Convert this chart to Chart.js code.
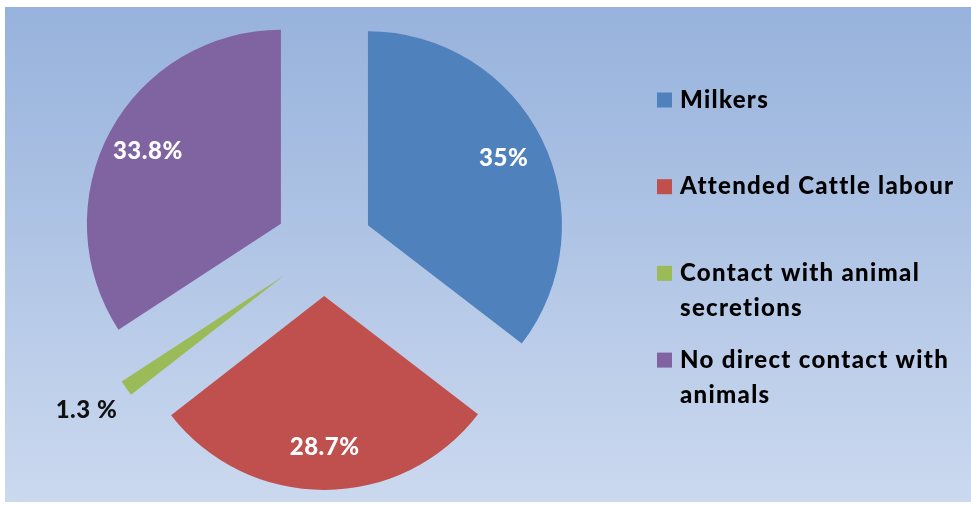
<!DOCTYPE html>
<html>
<head>
<meta charset="utf-8">
<script src="https://cdn.jsdelivr.net/npm/chart.js@4/dist/chart.umd.min.js"></script>
<style>
  html, body { margin: 0; padding: 0; background: #fff; }
  #wrap { width: 971px; height: 506px; }
</style>
</head>
<body>
<div id="wrap"><canvas id="chart" width="971" height="506"></canvas></div>
<script>
// exposure groups
const labels = [
  "Milkers",
  "Attended Cattle labour",
  ["Contact with animal", "secretions"],
  ["No direct contact with", "animals"],
];
const shares = [35, 28.7, 1.3, 33.8];
const shareText = ["35%", "28.7%", "1.3 %", "33.8%"];
const colors = ["#4f81bd", "#c0504d", "#9bbb59", "#8064a2"];

const FONT = "Lato, 'Open Sans', sans-serif";
const EXPLODE = 49;

// pull each slice out along its bisector without changing its shape
const explode = {
  id: "explode",
  afterDatasetUpdate(chart, args) {
    args.meta.data.forEach((arc) => {
      const mid = (arc.startAngle + arc.endAngle) / 2;
      arc.x += Math.cos(mid) * EXPLODE;
      arc.y += Math.sin(mid) * EXPLODE;
    });
  },
};

const background = {
  id: "background",
  beforeDraw(chart) {
    const ctx = chart.ctx;
    const g = ctx.createLinearGradient(0, 7, 0, 502);
    g.addColorStop(0, "#97b2dc");
    g.addColorStop(1, "#cbd9ef");
    ctx.save();
    ctx.fillStyle = g;
    ctx.fillRect(5, 7, 966, 495);
    ctx.restore();
  },
};

const sliceLabels = {
  id: "sliceLabels",
  afterDatasetsDraw(chart) {
    const ctx = chart.ctx;
    const meta = chart.getDatasetMeta(0);
    ctx.save();
    ctx.font = "900 24px " + FONT;
    ctx.letterSpacing = "0.5px";
    ctx.textBaseline = "middle";
    meta.data.forEach((arc, i) => {
      const mid = (arc.startAngle + arc.endAngle) / 2;
      const r = arc.outerRadius;
      if (shares[i] < 5) {
        // small slice: label sits outside, past the tip
        const tx = arc.x + Math.cos(mid) * r;
        const ty = arc.y + Math.sin(mid) * r;
        ctx.fillStyle = "#111";
        ctx.textAlign = "right";
        ctx.fillText(shareText[i], tx - 9, ty + 22);
      } else {
        const d = r * 0.78;
        ctx.fillStyle = "#fff";
        ctx.textAlign = "center";
        ctx.fillText(shareText[i], arc.x + Math.cos(mid) * d, arc.y + Math.sin(mid) * d);
      }
    });
    ctx.restore();
  },
};

const sideLegend = {
  id: "sideLegend",
  afterDraw(chart) {
    const ctx = chart.ctx;
    const x = 657, top = 100, step = 86.7, lineH = 35, box = 15;
    ctx.save();
    ctx.font = "900 24px " + FONT;
    ctx.letterSpacing = "1.3px";
    ctx.textBaseline = "middle";
    ctx.textAlign = "left";
    chart.data.labels.forEach((lab, i) => {
      const y = top + i * step;
      ctx.fillStyle = colors[i];
      ctx.fillRect(x, y - box / 2, box, box);
      ctx.fillStyle = "#000";
      const lines = Array.isArray(lab) ? lab : [lab];
      lines.forEach((t, j) => ctx.fillText(t, x + 23, y + j * lineH));
    });
    ctx.restore();
  },
};

new Chart(document.getElementById("chart"), {
  type: "pie",
  data: {
    labels: labels,
    datasets: [
      {
        data: shares,
        backgroundColor: colors,
        borderWidth: 0,
      },
    ],
  },
  options: {
    responsive: false,
    animation: false,
    radius: 194,
    layout: { padding: { left: 0, right: 323, top: 0, bottom: 12 } },
    plugins: {
      legend: { display: false },
      tooltip: { enabled: false },
    },
  },
  plugins: [explode, background, sliceLabels, sideLegend],
});
</script>
</body>
</html>
